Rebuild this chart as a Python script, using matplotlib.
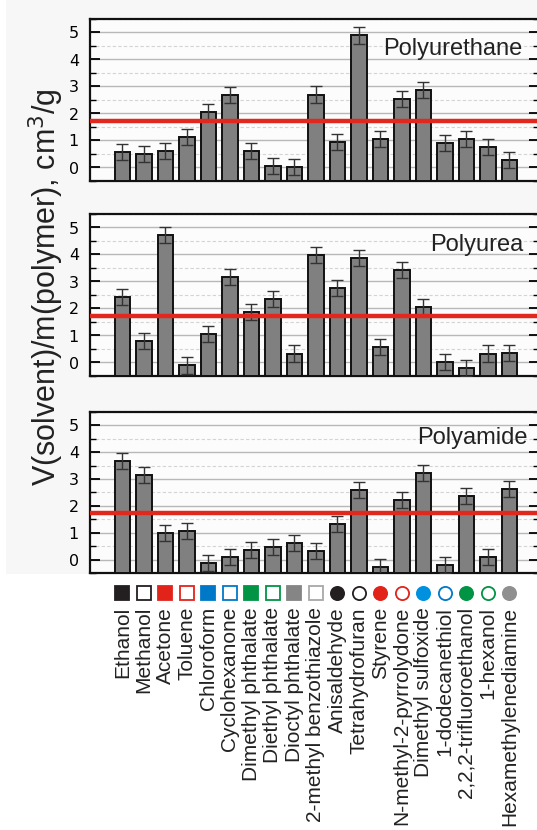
import numpy as np
import matplotlib
matplotlib.use("Agg")
from matplotlib import pyplot as plt
from matplotlib import transforms
from matplotlib.patches import Rectangle

#-------------------------------DATA----------------------------------
solvents = ["Ethanol", "Methanol", "Acetone", "Toluene", "Chloroform",
            "Cyclohexanone", "Dimethyl phthalate", "Diethyl phthalate",
            "Dioctyl phthalate", "2-methyl benzothiazole", "Anisaldehyde",
            "Tetrahydrofuran", "Styrene", "N-methyl-2-pyrrolydone",
            "Dimethyl sulfoxide", "1-dodecanethiol", "2,2,2-trifluoroethanol",
            "1-hexanol", "Hexamethylenediamine"]

polyurethane = [0.57, 0.49, 0.62, 1.13, 2.04, 2.69, 0.60, 0.07, 0.01, 2.70,
                0.94, 4.89, 1.05, 2.55, 2.87, 0.90, 1.07, 0.75, 0.29]
polyurea = [2.43, 0.80, 4.72, -0.11, 1.06, 3.18, 1.86, 2.34, 0.33, 3.98,
            2.76, 3.88, 0.58, 3.43, 2.07, 0.02, -0.20, 0.33, 0.36]
polyamide = [3.66, 3.16, 1.00, 1.05, -0.12, 0.10, 0.36, 0.47, 0.61, 0.32,
             1.34, 2.59, -0.28, 2.22, 3.23, -0.21, 2.37, 0.09, 2.62]
errors = [0.3] * 19
threshold = 1.73   # red line

polymers = ["Polyurethane", "Polyurea", "Polyamide"]

# legend symbol for every solvent: marker, colour, filled
sym_markers = ["s"] * 10 + ["o"] * 9
sym_colors = ["#231f20", "#231f20", "#e2231a", "#e2231a", "#0078c8", "#0078c8",
              "#009444", "#009444", "#858585", "#a8a8a8",
              "#231f20", "#231f20", "#e2231a", "#e2231a", "#0090e0", "#0078c8",
              "#009444", "#009444", "#8f8f8f"]
sym_filled = [True, False, True, False, True, False, True, False, True, False,
              True, False, True, False, True, False, True, False, True]

#-------------------------------LAYOUT--------------------------------
W, H = 537, 830
fig = plt.figure(figsize=(W / 100, H / 100), dpi=100)
fig.patch.set_facecolor("white")
fig.add_artist(Rectangle((6 / W, 1 - 574 / H), 1, 574 / H, transform=fig.transFigure,
                         facecolor="#f7f7f7", edgecolor="none", zorder=-10))

# panel boxes in pixels: top, bottom
boxes = [(19, 181), (214, 376), (412, 573)]
left_px, right_px = 90, 539
title_pos = [(522, 0.778), (523, 0.774), (528, 0.801)]

x = np.arange(len(solvents))
xmin = (left_px - 122.5) / 21.5
xmax = (right_px - 122.5) / 21.5
ymin, ymax = -0.5, 5.5

axes = []
for i, values in enumerate([polyurethane, polyurea, polyamide]):
    top, bot = boxes[i]
    ax = fig.add_axes([left_px / W, 1 - bot / H, (right_px - left_px) / W, (bot - top) / H])
    ax.set_facecolor("#fcfcfc")
    v = np.array(values)
    ax.bar(x, v - ymin, bottom=ymin, width=0.7, color="#808080",
           edgecolor="#111111", linewidth=1.4, zorder=3)
    ax.errorbar(x, v, yerr=errors, fmt="none", ecolor="#333333",
                elinewidth=1.0, capsize=4, capthick=1.0, zorder=4)
    ax.axhline(threshold, color="#e0281e", linewidth=3.2, zorder=5)

    # grid: solid on integers, dashed on halves
    for g in range(0, 6):
        ax.axhline(g, color="#b8b8b8", linewidth=1.0, zorder=1)
        ax.axhline(g + 0.5, color="#d4d4d4", linewidth=0.8, linestyle=(0, (3, 2)), zorder=1)

    ax.set_xlim(xmin, xmax)
    ax.set_ylim(ymin, ymax)
    ax.set_xticks([])
    ax.set_yticks(range(0, 6))
    ax.set_yticks(np.arange(-0.5, 5.6, 1.0), minor=True)
    ax.tick_params(axis="y", which="major", direction="in", length=7, width=1.3,
                   labelsize=11.5, right=True, pad=8)
    ax.tick_params(axis="y", which="minor", direction="in", length=4, width=1.0, right=True)
    for s in ax.spines.values():
        s.set_linewidth(1.6)
        s.set_color("#111111")

    tx, ty = title_pos[i]
    ax.text((tx - left_px) / (right_px - left_px), ty, polymers[i], transform=ax.transAxes,
            ha="right", va="baseline", fontsize=17, family="Liberation Sans", color="#222222")
    axes.append(ax)

# y label for all panels
fig.text(46 / W, 1 - 287 / H, "V(solvent)/m(polymer), cm$^3$/g", rotation=90,
         ha="center", va="center", fontsize=22, family="Liberation Sans", color="#222222")

#-------------------------------SOLVENT LEGEND------------------------
ax = axes[-1]
trans = transforms.blended_transform_factory(ax.transData, fig.transFigure)
for i, name in enumerate(solvents):
    face = sym_colors[i] if sym_filled[i] else "white"
    ax.plot(x[i], 1 - 593 / H, marker=sym_markers[i], markersize=9.5,
            markerfacecolor=face, markeredgecolor=sym_colors[i],
            markeredgewidth=1.3, transform=trans, clip_on=False)
    ax.text(x[i], 1 - 607 / H, name, rotation=90, ha="center", va="top",
            fontsize=15, family="Liberation Sans", color="#222222", transform=trans)

fig.savefig("out.png", dpi=100, facecolor=fig.get_facecolor())
